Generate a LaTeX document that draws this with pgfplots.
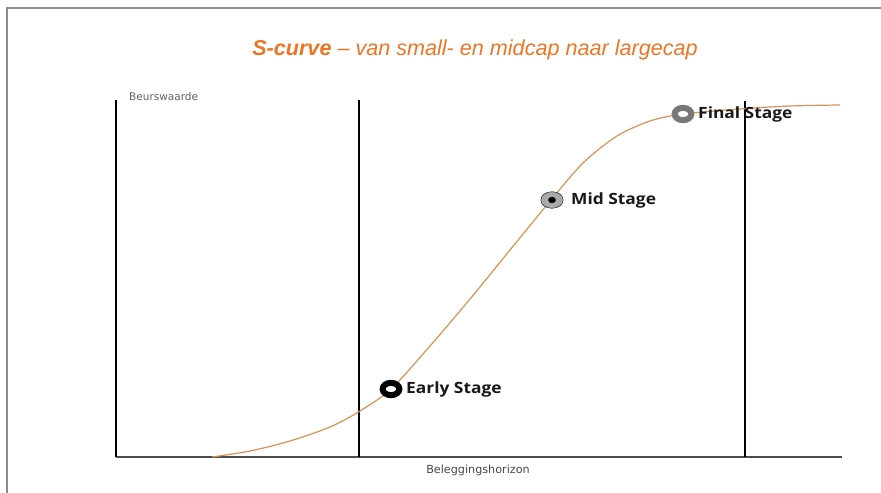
\documentclass[border=0pt]{standalone}
\usepackage{pgfplots}
\pgfplotsset{compat=1.18}
\usepackage{fontspec}
\setmainfont{Liberation Sans}
\newfontfamily\stagefont{Open Sans}
\newfontfamily\dejavu{DejaVu Sans}
\definecolor{titleorange}{RGB}{236,118,36}
\definecolor{curveorange}{RGB}{218,146,84}
\definecolor{midgray}{RGB}{170,170,170}
\definecolor{fingray}{RGB}{120,120,120}
\begin{document}
\begin{tikzpicture}
\useasboundingbox (0,0) rectangle (881bp,493bp);
\fill[white] (0,0) rectangle (881bp,493bp);
\draw[black!45, line width=1.2bp] (7bp,0) -- (7bp,485bp) -- (881bp,485bp);
\node[font=\fontsize{21.6bp}{25bp}\selectfont\itshape, text=titleorange] at (475bp,443bp) {\textbf{S-curve} -- van small- en midcap naar largecap};
\node[anchor=west, font=\dejavu\fontsize{10.5bp}{12bp}\selectfont, text=black!62, inner sep=0pt] at (129bp,396bp) {Beurswaarde};
\node[font=\dejavu\fontsize{11.2bp}{12bp}\selectfont, text=black!72, inner sep=0pt] at (478bp,23bp) {Beleggingshorizon};
\begin{axis}[at={(116bp,36bp)}, anchor=south west, x=1bp, y=1bp,
  xmin=116, xmax=842, ymin=36, ymax=393,
  axis lines=left, ticks=none, clip=false,
  axis line style={-},
  x axis line style={-, draw=black!70, line width=1.8bp},
  y axis line style={-, draw=black, line width=1.8bp}]
\addplot[black, line width=1.5bp] coordinates {(359,36) (359,393)};
\addplot[black, line width=1.5bp] coordinates {(745,36) (745,392)};
\addplot[curveorange, line width=1.2bp, smooth] coordinates {
(212,36) (250,42) (290,52) (330,66) (360,82) (391,104) (430,147) (470,194)
(510,243) (551,293) (583,330) (617,357) (650,372) (683,379) (740,384) (790,387) (840,388)};
% Early stage marker
\addplot[only marks, mark=*, mark size=6.2bp, mark options={draw=black, fill=white, line width=6bp, xscale=1.35}] coordinates {(391,104)};
% Mid stage marker
\addplot[only marks, mark=*, mark size=8.3bp, mark options={draw=none, fill=midgray, xscale=1.35}] coordinates {(552,293)};
\addplot[only marks, mark=*, mark size=2.9bp, mark options={draw=none, fill=black, xscale=1.25}] coordinates {(552,293)};
% Final stage marker
\addplot[only marks, mark=*, mark size=6.2bp, mark options={draw=fingray, fill=white, line width=6bp, xscale=1.35}] coordinates {(683,379)};
\node[anchor=west, font=\stagefont\bfseries\fontsize{15.5bp}{17bp}\selectfont, text=black!90, inner sep=0pt, xscale=1.12] at (axis cs:406,104) {Early Stage};
\node[anchor=west, font=\stagefont\bfseries\fontsize{15.5bp}{17bp}\selectfont, text=black!90, inner sep=0pt, xscale=1.12] at (axis cs:571,293) {Mid Stage};
\node[anchor=west, font=\stagefont\bfseries\fontsize{15.5bp}{17bp}\selectfont, text=black!90, inner sep=0pt, xscale=1.12] at (axis cs:698,379) {Final Stage};
\end{axis}
\end{tikzpicture}
\end{document}
